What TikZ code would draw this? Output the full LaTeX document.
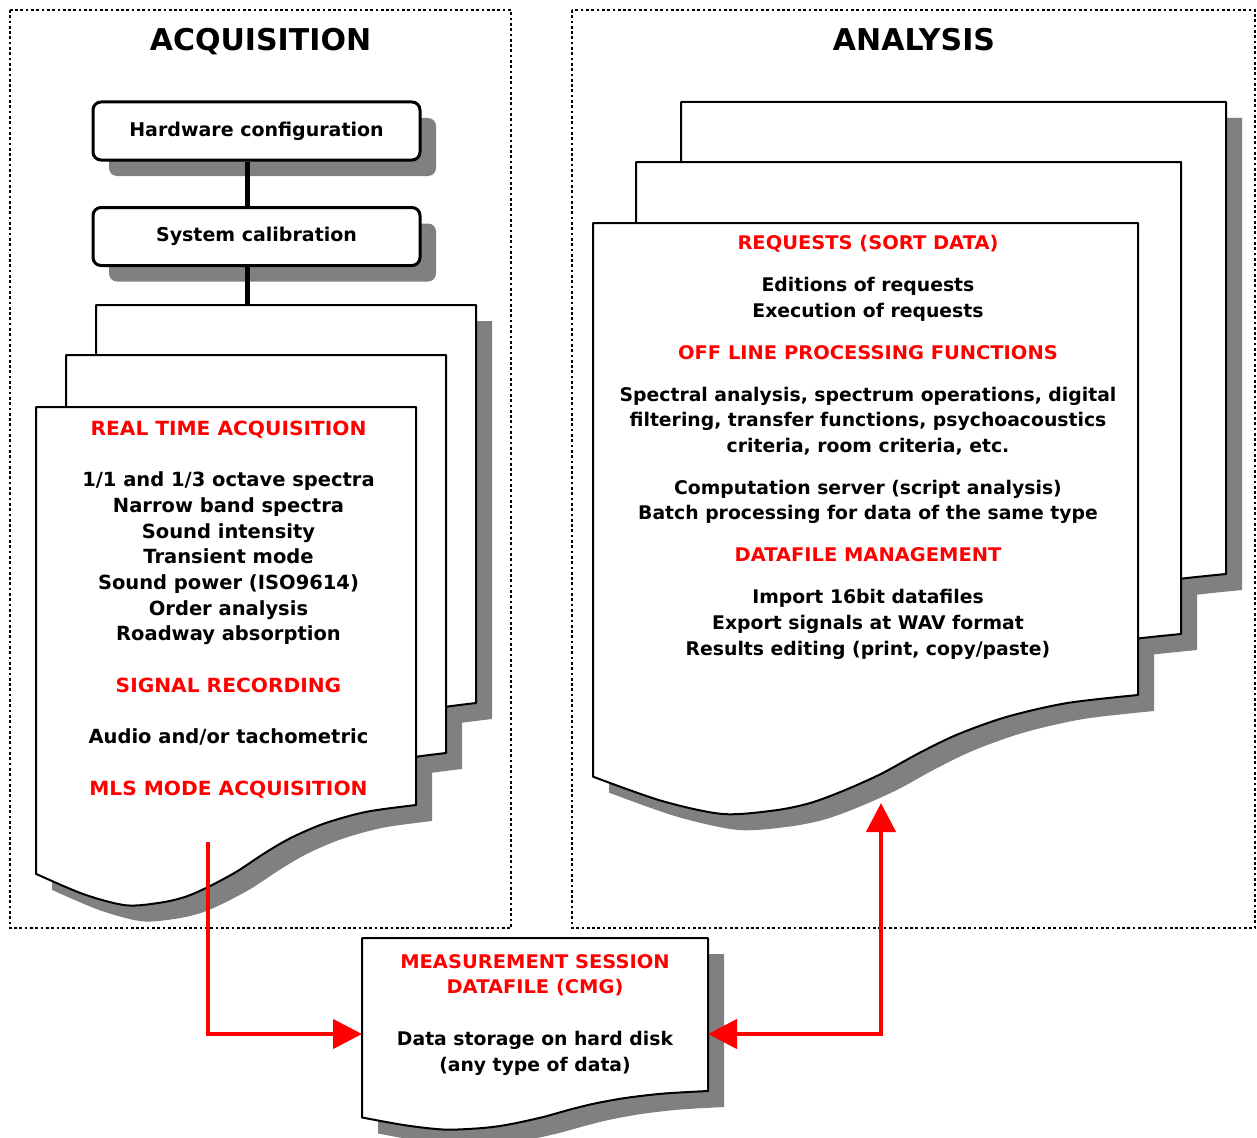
\documentclass[tikz,border=0pt]{standalone}
\usepackage{fontspec}
\setmainfont{DejaVu Sans}
\newfontfamily\widefont{DejaVu Sans}[FakeStretch=1.035]
\usetikzlibrary{arrows.meta,shadows,calc}
\definecolor{shgray}{RGB}{128,128,128}
\definecolor{hired}{RGB}{255,0,0}
\newcommand{\hd}[1]{{\widefont\bfseries\color{hired}#1}}
% document page shape: #1,#2 top-left; #3 width; #4 height of right edge; #5 style
\newcommand{\docpage}[5]{%
  \path[#5,shift={(#1,#2)},xscale=#3,yscale=#4]
    (0,0) -- (1,0) -- (1,1) -- plot[smooth,tension=0.5] coordinates {(1,1) (0.87,1.017) (0.76,1.046) (0.67,1.083) (0.6,1.122) (0.527,1.168) (0.455,1.205) (0.395,1.23) (0.33,1.245) (0.237,1.252) (0.125,1.224) (0,1.173)} -- cycle;}
\begin{document}
\begin{tikzpicture}[x=1pt,y=-1pt,
  frame/.style={draw=black,line width=2.7pt,dash pattern=on 2.7pt off 2.6pt},
  titletext/.style={font=\fontsize{30}{36}\selectfont\bfseries,inner sep=0pt},
  procbox/.style={draw=black,line width=3pt,rounded corners=8pt,fill=white,
    minimum width=327pt,minimum height=58pt,inner sep=0pt,
    font=\fontsize{19}{24}\selectfont\bfseries,
    drop shadow={shadow xshift=16pt,shadow yshift=-16pt,fill=shgray,opacity=1}},
  conn/.style={draw=black,line width=5pt},
  pageline/.style={draw=black,fill=white,line width=2pt,line join=round},
  pageshadow/.style={fill=shgray},
  bodytext/.style={align=center,inner sep=0pt,font=\fontsize{19.5}{25.7}\selectfont\bfseries},
  bodytextsm/.style={align=center,inner sep=0pt,font=\fontsize{18.8}{25.7}\selectfont\bfseries},
  redarrow/.style={draw=hired,line width=4.5pt,
    -{Triangle[length=29pt,width=29pt]}},
  redboth/.style={draw=hired,line width=4.5pt,
    {Triangle[length=29pt,width=29pt]}-{Triangle[length=29pt,width=29pt]}}
]
\useasboundingbox[fill=white] (0,0) rectangle (1257,1137);

% frames
\draw[frame] (10,10) rectangle (511,928);
\draw[frame] (572,10) rectangle (1255,928);

% titles
\node[titletext,anchor=base] (tacq) at (260.5,51) {ACQUISITION};
\node[titletext,anchor=base] (tana) at (914,51) {ANALYSIS};

% process boxes
\node[procbox] (hw) at (256.5,131) {Hardware configuration};
\node[procbox] (cal) at (256.5,236.5) {System calibration};
\coordinate (spine) at (247,0);
\coordinate (acqback) at (96,305);
\draw[conn] (hw.south -| spine) -- (cal.north -| spine);
\draw[conn] (cal.south -| spine) -- (acqback -| spine);

% acquisition stack
\docpage{112}{321}{380}{398}{pageshadow}
\docpage{82}{371}{380}{398}{pageshadow}
\docpage{52}{423}{380}{398}{pageshadow}
\docpage{96}{305}{380}{398}{pageline}
\docpage{66}{355}{380}{398}{pageline}
\docpage{36}{407}{380}{398}{pageline}

% analysis stack
\docpage{697}{118}{545}{472}{pageshadow}
\docpage{652}{178}{545}{472}{pageshadow}
\docpage{609}{239}{545}{472}{pageshadow}
\docpage{681}{102}{545}{472}{pageline}
\docpage{636}{162}{545}{472}{pageline}
\docpage{593}{223}{545}{472}{pageline}

% measurement session document
\docpage{378}{954}{346}{153}{pageshadow}
\docpage{362}{938}{346}{153}{pageline}

% texts (anchor base = baseline of the last line)
\node[bodytext,anchor=base] (acqtxt) at (228.5,795) {%
\hd{REAL TIME ACQUISITION}\\[25.7pt]
1/1 and 1/3 octave spectra\\
Narrow band spectra\\
Sound intensity\\
Transient mode\\
Sound power (ISO9614)\\
Order analysis\\
Roadway absorption\\[25.7pt]
\hd{SIGNAL RECORDING}\\[25.7pt]
Audio and/or tachometric\\[25.7pt]
\hd{MLS MODE ACQUISITION}};

\node[bodytextsm,anchor=base] (anatxt) at (868,655) {%
\hd{REQUESTS (SORT DATA)}\\[16.3pt]
Editions of requests\\
Execution of requests\\[16.3pt]
\hd{OFF LINE PROCESSING FUNCTIONS}\\[16.3pt]
Spectral analysis, spectrum operations, digital\\
filtering, transfer functions, psychoacoustics\\
criteria, room criteria, etc.\\[16pt]
Computation server (script analysis)\\
Batch processing for data of the same type\\[16pt]
\hd{DATAFILE MANAGEMENT}\\[16.3pt]
Import 16bit datafiles\\
Export signals at WAV format\\
Results editing (print, copy/paste)};

\node[bodytextsm,anchor=base] (meastxt) at (535,1071) {%
\hd{MEASUREMENT SESSION}\\
\hd{DATAFILE (CMG)}\\[25.7pt]
Data storage on hard disk\\
(any type of data)};

% red connectors
\coordinate (acqout) at (208,842);
\coordinate (measin) at (362,1034);
\coordinate (measout) at (708,1034);
\coordinate (anabot) at (881,803);
\draw[redarrow] (acqout) |- (measin);
\draw[redboth] (measout) -| (anabot);
\end{tikzpicture}
\end{document}
